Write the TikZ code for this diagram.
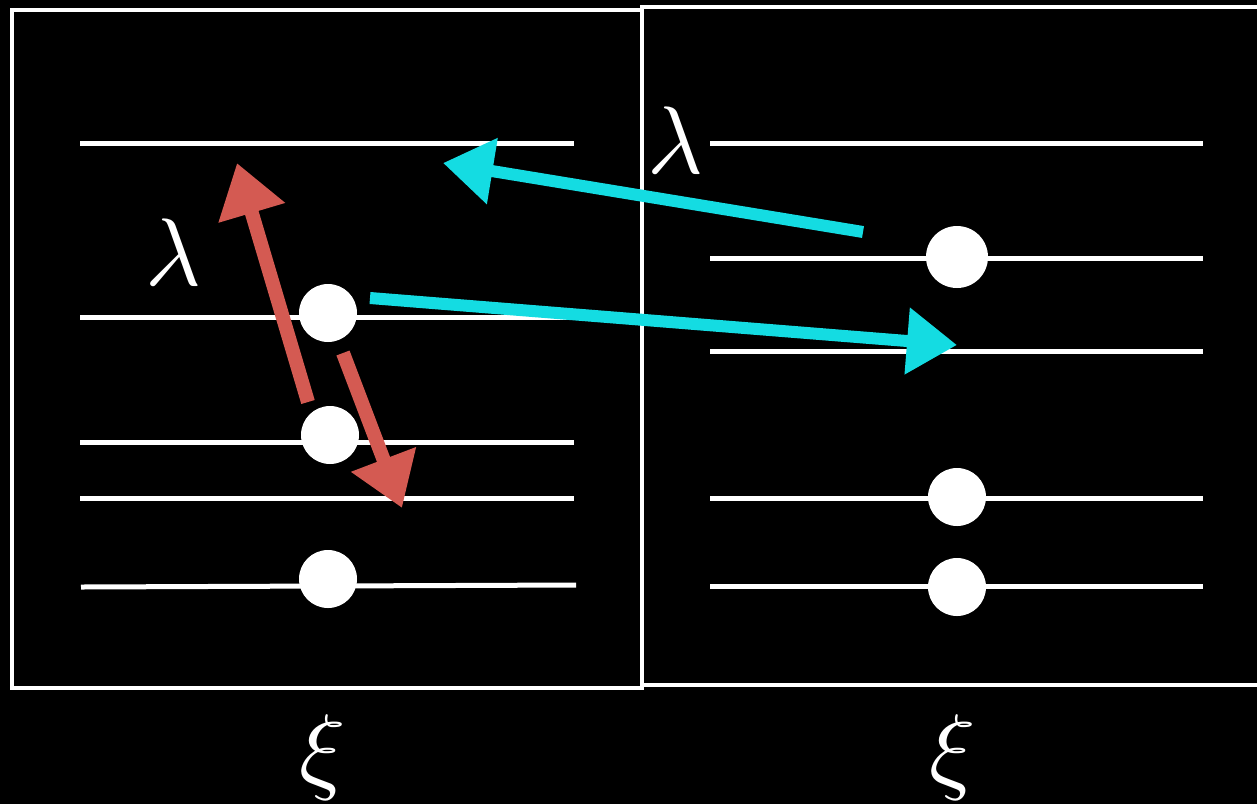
\documentclass[tikz,border=0pt]{standalone}
\usepackage{graphicx}
\usetikzlibrary{arrows.meta,decorations.pathmorphing}
\definecolor{arrowred}{HTML}{D45A52}
\definecolor{arrowcyan}{HTML}{14DCE2}
\newcommand{\biglab}[1]{\scalebox{9.6}{$#1$}}
\begin{document}
\begin{tikzpicture}[x=1pt,y=-1pt,
  level/.style={draw=white,line width=5pt},
  frame/.style={draw=white,line width=4.5pt},
  dot/.style={circle,fill=white,inner sep=0pt,minimum width=#1},
  lab/.style={text=white,inner sep=0pt},
  redarrow/.style={draw=arrowred,line width=14pt,-{Triangle[length=52pt,width=66pt]}},
  cyanarrow/.style={draw=arrowcyan,line width=12pt,-{Triangle[length=50pt,width=64pt]}}]
\fill[black] (0,0) rectangle (1257,804);
\useasboundingbox (0,0) rectangle (1257,804);
\clip (0,0) rectangle (1257,804);
% frames
\draw[frame] (12,10) rectangle (642,688);
\draw[frame] (642,7) rectangle (1264,685);
% left levels
\foreach \y in {143,317,442,498} \draw[level] (80,\y) -- (574,\y);
\draw[level] (81,587) -- (576,585);
% right levels
\foreach \y in {143,258,351,498,586} \draw[level] (710,\y) -- (1203,\y);
% dots
\node[dot=58pt] (l1) at (328,313) {};
\node[dot=58pt] (l2) at (330,435) {};
\node[dot=58pt] (l3) at (328,579) {};
\node[dot=62pt] (r1) at (957,257) {};
\node[dot=58pt] (r2) at (957,497) {};
\node[dot=58pt] (r3) at (957,587) {};
% labels
\node[lab] (lamL) at (173,252) {\biglab{\lambda}};
\node[lab] (lamR) at (675,140) {\biglab{\lambda}};
\node[lab] (xiL) at (323,757) {\biglab{\xi}};
\node[lab] (xiR) at (953,757) {\biglab{\xi}};
% arrow end points
\coordinate (ra1) at (308,402);
\coordinate (ra2) at (237,163);
\coordinate (rb1) at (343,353);
\coordinate (rb2) at (402,508);
\coordinate (ca1) at (863,232);
\coordinate (ca2) at (443,163);
\coordinate (cb1) at (370,298);
\coordinate (cb2) at (957,345);
% arrows
\draw[redarrow] (ra1) -- (ra2);
\draw[redarrow] (rb1) -- (rb2);
\draw[cyanarrow] (ca1) -- (ca2);
\draw[cyanarrow] (cb1) -- (cb2);
\end{tikzpicture}
\end{document}
